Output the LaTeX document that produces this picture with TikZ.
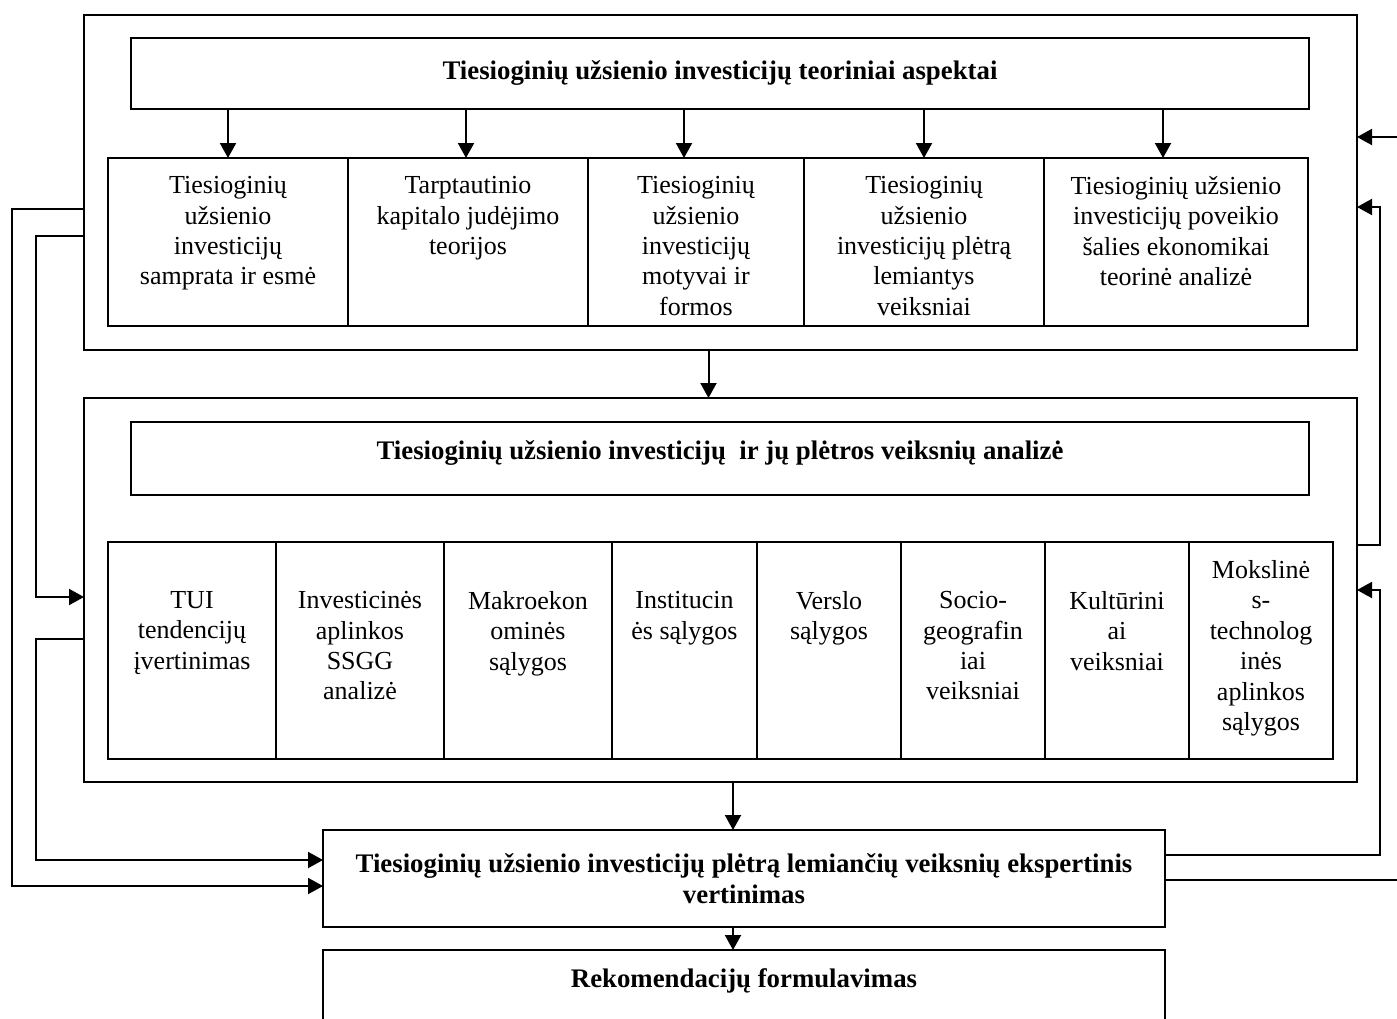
\documentclass[tikz,border=0pt]{standalone}
\usepackage{fontspec}
\setmainfont{Liberation Serif}
\usetikzlibrary{arrows.meta,positioning,calc}

\begin{document}
\begin{tikzpicture}[
  x=0.5pt, y=-0.5pt,
  frame/.style={draw, line width=1pt, rectangle, anchor=north west, inner sep=0pt, outer sep=0pt},
  head/.style={frame, minimum width=589pt},
  cell/.style={frame, minimum height=84pt},
  fcell/.style={frame, minimum height=108.5pt},
  txt/.style={anchor=north, align=center, inner sep=0pt, yshift=-9pt, font=\fontsize{13}{15.2}\selectfont},
  ltxt/.style={txt, yshift=-15.5pt},
  btxt/.style={txt, font=\fontsize{13.4}{15.2}\selectfont\bfseries},
  arr/.style={-{Triangle[length=7.5pt, width=8pt]}, line width=1pt},
  node distance=0pt
]

\useasboundingbox (0,0) rectangle (1397,1018);
\clip (0,0) rectangle (1397,1018);

\node[frame, minimum width=636.5pt, minimum height=167.5pt] (theory) at (84,15) {};
\node[head, minimum height=35.5pt, label={[btxt, yshift=-2pt]north:Tiesioginių užsienio investicijų teoriniai aspektai}] (theoryhead) at (131,38) {};

\node[cell, minimum width=120pt, label={[txt]north:Tiesioginių\\užsienio\\investicijų\\samprata ir esmė}] (t1) at (108,158) {};
\node[cell, minimum width=120pt, right=0pt of t1, label={[txt]north:Tarptautinio\\kapitalo judėjimo\\teorijos}] (t2) {};
\node[cell, minimum width=108pt, right=0pt of t2, label={[txt]north:Tiesioginių\\užsienio\\investicijų\\motyvai ir\\formos}] (t3) {};
\node[cell, minimum width=120pt, right=0pt of t3, label={[txt]north:Tiesioginių\\užsienio\\investicijų plėtrą\\lemiantys\\veiksniai}] (t4) {};
\node[cell, minimum width=132pt, right=0pt of t4, label={[txt]north:Tiesioginių užsienio\\investicijų poveikio\\šalies ekonomikai\\teorinė analizė}] (t5) {};

\node[frame, minimum width=636.5pt, minimum height=192pt] (factors) at (84,398) {};
\node[head, minimum height=36.5pt, label={[btxt]north:Tiesioginių užsienio investicijų\ \ ir jų plėtros veiksnių analizė}] (factorshead) at (131,422) {};

\node[fcell, minimum width=84pt, label={[ltxt]north:TUI\\tendencijų\\įvertinimas}] (f1) at (108,542) {};
\node[fcell, minimum width=84pt, right=0pt of f1, label={[ltxt]north:Investicinės\\aplinkos\\SSGG\\analizė}] (f2) {};
\node[fcell, minimum width=84pt, right=0pt of f2, label={[ltxt]north:Makroekon\\ominės\\sąlygos}] (f3) {};
\node[fcell, minimum width=72.5pt, right=0pt of f3, label={[ltxt]north:Institucin\\ės sąlygos}] (f4) {};
\node[fcell, minimum width=72pt, right=0pt of f4, label={[ltxt]north:Verslo\\sąlygos}] (f5) {};
\node[fcell, minimum width=72pt, right=0pt of f5, label={[ltxt]north:Socio-\\geografin\\iai\\veiksniai}] (f6) {};
\node[fcell, minimum width=72pt, right=0pt of f6, label={[ltxt]north:Kultūrini\\ai\\veiksniai}] (f7) {};
\node[fcell, minimum width=72pt, right=0pt of f7, label={[txt]north:Mokslinė\\s-\\technolog\\inės\\aplinkos\\sąlygos}] (f8) {};

\node[frame, minimum width=421pt, minimum height=48.5pt, align=center, font=\fontsize{13.4}{15.2}\selectfont\bfseries] (expert) at (323,830) {Tiesioginių užsienio investicijų plėtrą lemiančių veiksnių ekspertinis\\vertinimas};
\node[frame, minimum width=421pt, minimum height=50pt, label={[btxt]north:Rekomendacijų formulavimas}] (recom) at (323,950) {};

\foreach \c/\dx in {t1/0pt, t2/-1pt, t3/-6pt, t4/0pt, t5/-6.5pt}
  \draw[arr] ([xshift=\dx]\c.north |- theoryhead.south) -- ([xshift=\dx]\c.north);

\draw[arr] ([xshift=-6pt]theory.south) -- ([xshift=-6pt]theory.south |- factors.north);
\draw[arr] ([xshift=-5.5pt]expert.north |- factors.south) -- ([xshift=-5.5pt]expert.north);
\draw[arr] ([xshift=-5.5pt]expert.south) -- ([xshift=-5.5pt]recom.north);

\draw[arr] ([yshift=-97pt]theory.north west) -- ++(-36pt,0) |- ([yshift=-3.75pt]expert.west);
\draw[arr] ([yshift=-110.5pt]theory.north west) -- ++(-24pt,0) |- ([yshift=-99.5pt]factors.north west);
\draw[arr] ([yshift=-120.5pt]factors.north west) -- ++(-24pt,0) |- ([yshift=-15pt]expert.north west);

\coordinate (inR) at (1397,137);
\coordinate (outR) at (1397,880);
\draw[arr] (inR) -- (inR -| theory.east);
\draw[arr] ([yshift=-73.5pt]factors.north east) -- ++(11.5pt,0) |- ([yshift=-96pt]theory.north east);
\draw[arr] ([yshift=-12.5pt]expert.north east) -- ++(107.5pt,0) |- ([yshift=-96pt]factors.north east);
\draw[line width=1pt] ([yshift=-25pt]expert.north east) -- (outR);

\end{tikzpicture}
\end{document}
